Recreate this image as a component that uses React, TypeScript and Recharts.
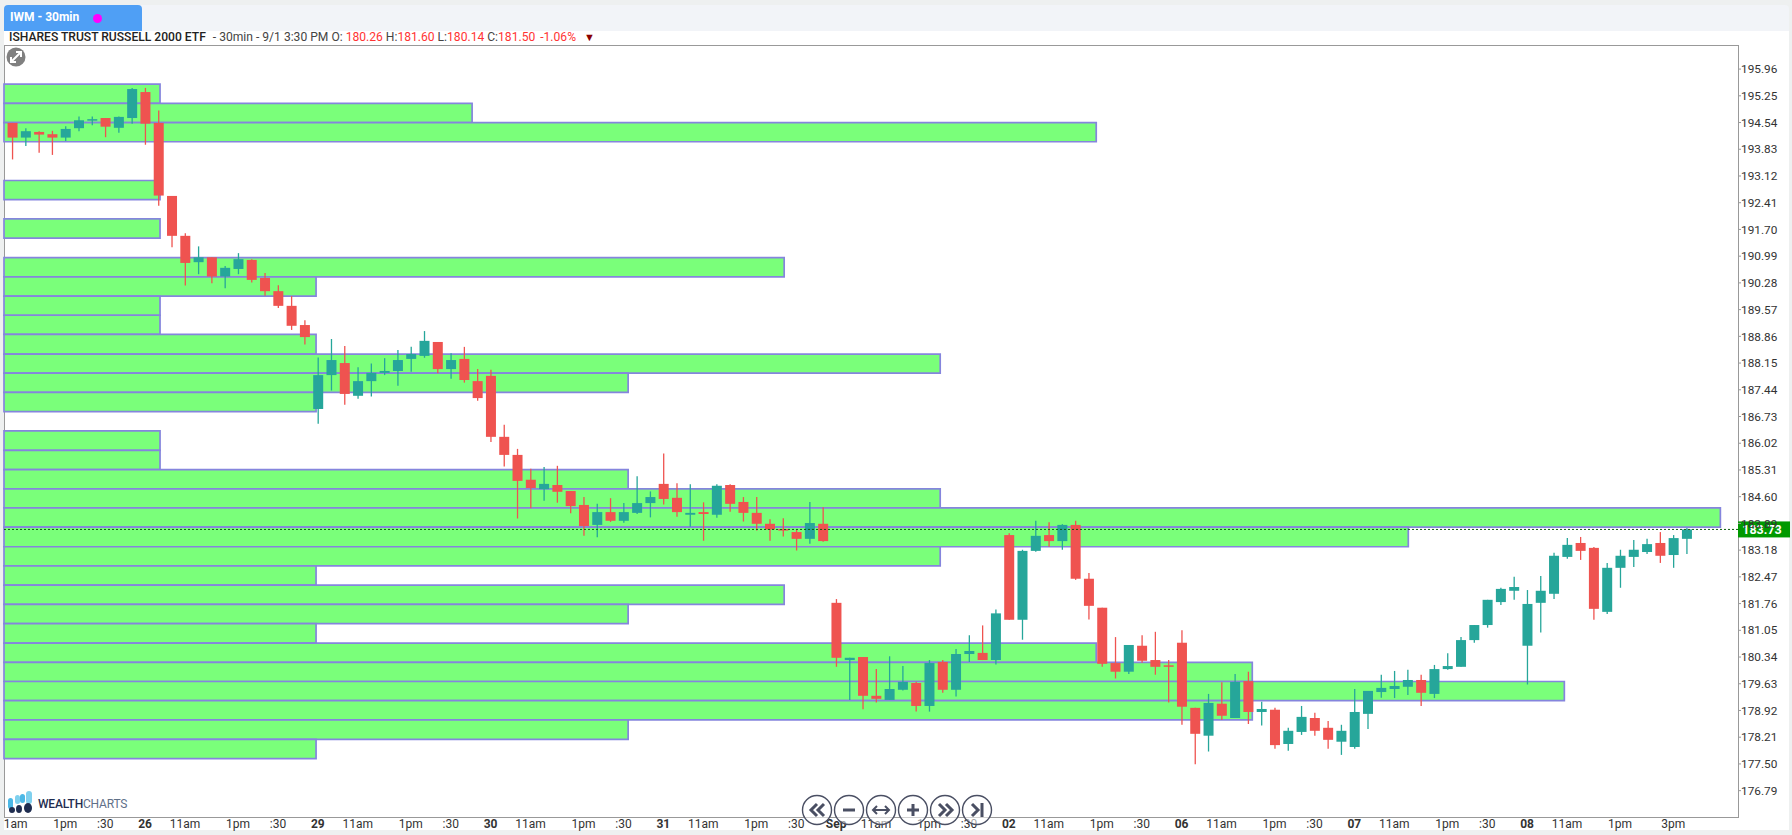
import {
  ComposedChart,
  Bar,
  XAxis,
  YAxis,
  ReferenceArea,
  ReferenceLine,
} from "recharts";

const opens = [
  194.53,194.14,194.29,194.23,194.14,194.39,194.60,194.66,194.40,194.66,
  195.35,194.53,192.59,191.53,190.83,190.96,190.45,190.65,190.89,190.41,
  190.06,189.67,189.16,186.93,187.83,188.15,187.28,187.67,187.89,187.94,
  188.26,188.34,188.71,187.99,188.26,187.67,187.81,186.19,185.71,185.05,
  184.80,184.91,184.75,184.38,183.85,184.19,183.96,184.17,184.43,184.94,
  184.57,184.12,184.19,184.12,184.91,184.46,184.17,183.88,183.74,183.66,
  183.48,183.88,181.78,180.26,180.34,179.31,179.20,179.47,179.65,179.04,
  180.21,179.47,180.42,180.45,180.26,183.58,181.33,183.16,183.58,183.42,
  183.85,182.42,181.65,180.18,179.95,180.64,180.26,180.12,180.72,178.99,
  178.25,179.10,178.72,179.70,178.88,178.94,178.03,178.35,178.72,178.46,
  178.09,177.95,178.83,179.41,179.49,179.55,179.73,179.36,180.02,180.08,
  180.79,181.19,181.80,182.10,180.64,181.78,182.02,183.00,183.37,183.24,
  181.54,182.71,183.00,183.13,183.37,183.05,183.48,
];
const highs = [
  194.53,194.39,194.31,194.32,194.44,194.70,194.70,194.66,194.70,195.46,
  195.46,194.86,192.59,191.60,191.25,190.96,190.73,191.07,190.91,190.54,
  190.22,189.93,189.29,188.30,188.79,188.60,188.04,188.14,188.28,188.50,
  188.58,189.00,188.71,188.41,188.58,187.99,187.97,186.51,185.87,185.34,
  185.39,185.42,184.75,184.59,184.41,184.56,184.43,185.14,184.74,185.75,
  184.96,184.93,184.45,184.93,184.93,184.59,184.59,184.00,184.03,183.72,
  184.46,184.32,181.88,180.32,180.34,180.02,180.36,180.10,179.68,180.26,
  180.26,180.55,180.92,181.18,181.60,183.63,183.19,183.96,183.92,183.87,
  183.96,182.57,181.65,180.87,180.66,180.92,181.01,180.26,181.05,178.99,
  179.36,179.67,179.89,179.95,179.15,178.99,178.46,179.04,178.86,178.64,
  178.54,179.49,179.44,179.87,179.97,180.00,179.87,180.13,180.44,180.87,
  181.19,181.86,182.18,182.47,182.12,182.49,183.11,183.50,183.53,183.26,
  182.84,183.19,183.45,183.48,183.66,183.58,183.77,
];
const lows = [
  193.56,193.92,193.74,193.68,194.05,194.31,194.47,194.15,194.27,194.51,
  193.95,192.33,191.23,190.21,190.51,190.27,190.14,190.51,190.29,189.94,
  189.61,189.03,188.64,186.54,187.42,187.04,187.20,187.26,187.83,187.55,
  187.92,188.29,187.88,187.73,187.63,187.15,186.05,185.40,184.02,184.29,
  184.49,184.44,184.16,183.56,183.52,183.93,183.91,184.14,184.05,184.39,
  184.07,183.80,183.43,184.04,184.20,183.94,183.70,183.43,183.54,183.17,
  183.35,183.40,180.08,179.20,178.95,179.13,179.20,179.45,178.89,178.89,
  179.39,179.29,180.21,180.26,180.14,181.33,180.80,183.14,183.27,183.19,
  182.39,181.34,180.08,179.77,179.89,180.19,179.87,179.13,178.54,177.49,
  177.83,178.67,178.72,178.56,178.52,177.90,177.85,178.27,178.25,177.90,
  177.74,177.90,178.43,179.26,179.25,179.33,179.04,179.25,180.00,180.08,
  180.72,181.12,181.72,181.86,179.61,180.99,181.88,182.95,182.92,181.33,
  181.48,182.18,182.73,183.08,182.84,182.71,183.08,
];
const closes = [
  194.14,194.31,194.22,194.14,194.37,194.60,194.63,194.43,194.69,195.43,
  194.51,192.60,191.53,190.81,190.96,190.45,190.68,190.91,190.36,190.06,
  189.67,189.14,188.84,187.83,188.23,187.33,187.67,187.89,187.94,188.23,
  188.39,188.74,187.99,188.23,187.70,187.22,186.19,185.71,185.02,184.83,
  184.94,184.73,184.35,183.82,184.19,183.96,184.19,184.43,184.59,184.54,
  184.19,184.17,184.14,184.89,184.41,184.17,183.88,183.73,183.70,183.48,
  183.90,183.42,180.32,180.32,179.31,179.23,179.49,179.68,179.04,180.18,
  179.47,180.42,180.50,180.26,181.50,181.33,183.16,183.56,183.42,183.85,
  182.42,181.70,180.16,179.95,180.66,180.24,180.08,180.08,179.02,178.30,
  179.12,178.78,179.68,178.88,178.96,178.00,178.38,178.75,178.38,178.14,
  178.38,178.88,179.44,179.52,179.57,179.73,179.39,180.02,180.10,180.79,
  181.19,181.86,182.15,182.20,181.75,182.10,183.03,183.32,183.16,181.62,
  182.71,183.03,183.19,183.34,183.03,183.50,183.73,
];

// volume profile rows, top to bottom
const rowEdges = [
  195.56,195.05,194.54,194.03,193.51,193.00,192.49,191.98,191.47,190.95,
  190.44,189.93,189.42,188.91,188.39,187.88,187.37,186.86,186.35,185.83,
  185.32,184.81,184.30,183.79,183.27,182.76,182.25,181.74,181.23,180.71,
  180.20,179.69,179.18,178.67,178.15,177.64,
];
const rowVolumes = [
  1,3,7,0,0,1,0,1,0,5,2,1,1,2,6,4,2,0,1,1,4,6,11,9,6,2,5,4,2,7,8,10,8,4,2,
];

const priceTicks = [
  195.96,195.25,194.54,193.83,193.12,192.41,191.70,190.99,190.28,189.57,
  188.86,188.15,187.44,186.73,186.02,185.31,184.60,183.89,183.18,182.47,
  181.76,181.05,180.34,179.63,178.92,178.21,177.50,176.79,
];
const timeTicks = [
  0,4,7,10,13,17,20,23,26,30,33,36,39,43,46,49,52,56,59,62,65,69,72,75,78,82,85,88,91,95,98,101,104,108,111,114,117,121,125,
];
const timeLabels = [
  "1am","1pm",":30","26","11am","1pm",":30","29","11am","1pm",":30","30","11am","1pm",":30","31",
  "11am","1pm",":30","Sep","11am","1pm",":30","02","11am","1pm",":30","06","11am","1pm",":30","07",
  "11am","1pm",":30","08","11am","1pm","3pm",
];
const lastPrice = 183.73;

const candles = opens.map((open, i) => ({
  index: i,
  open,
  high: highs[i],
  low: lows[i],
  close: closes[i],
  range: [lows[i], highs[i]],
}));

const font = "Roboto, sans-serif";
const UP = "#26a69a";
const DOWN = "#ef5350";

function Candle(props: any) {
  const { x, y, width, height, payload } = props;
  const perPrice = height / (payload.high - payload.low);
  const up = payload.close >= payload.open;
  const color = up ? UP : DOWN;
  const bodyTop = y + (payload.high - Math.max(payload.open, payload.close)) * perPrice;
  const bodyH = Math.max(Math.abs(payload.open - payload.close) * perPrice, 1.5);
  const cx = x + width / 2;
  return (
    <g>
      <line x1={cx} x2={cx} y1={y} y2={y + height} stroke={color} strokeWidth={1.3} />
      <rect x={x} y={bodyTop} width={width} height={bodyH} fill={color} />
    </g>
  );
}

function TimeTick(props: any) {
  const { x, y, payload } = props;
  const label = timeLabels[timeTicks.indexOf(payload.value)];
  const bold = /^\d\d$/.test(label) || label === "Sep";
  return (
    <text
      x={payload.value === 0 ? x + 3.5 : x}
      y={y + 3}
      textAnchor="middle"
      fontFamily={font}
      fontSize={12}
      fontWeight={bold ? 700 : 400}
      fill="#333"
    >
      {label}
    </text>
  );
}

function PriceTag(props: any) {
  const { viewBox } = props;
  const right = viewBox.x + viewBox.width;
  return (
    <g>
      <rect x={right} y={viewBox.y - 8} width={52} height={16} fill="#009900" />
      <text
        x={right + 24}
        y={viewBox.y + 4.5}
        textAnchor="middle"
        fontFamily={font}
        fontSize={12.5}
        fontWeight={700}
        fill="#fff"
      >
        {lastPrice.toFixed(2)}
      </text>
    </g>
  );
}

function NavButtons() {
  const xs = [817, 849, 881, 913, 945, 977];
  const c = "#4a4f63";
  return (
    <svg width={1792} height={835} style={{ position: "absolute", left: 0, top: 0, pointerEvents: "none" }}>
      {xs.map((x) => (
        <circle key={x} cx={x} cy={810} r={14.5} fill="rgba(255,255,255,0.55)" stroke={c} strokeWidth={1.4} />
      ))}
      <g fill="none" stroke={c} strokeWidth={3}>
        <path d="M817 804l-6 6 6 6M824 804l-6 6 6 6" />
        <path d="M843 810h12" />
        <path d="M873 810h16" strokeWidth={2} />
        <path d="M877 806l-4 4 4 4M885 806l4 4-4 4" strokeWidth={2} />
        <path d="M907 810h12M913 804v12" />
        <path d="M939 804l6 6-6 6M946 804l6 6-6 6" />
        <path d="M972 804l6 6-6 6M982 803v14" />
      </g>
    </svg>
  );
}

function Logo() {
  return (
    <div style={{ position: "absolute", left: 7, top: 791, width: 124, height: 24 }}>
      <svg width={26} height={24} style={{ position: "absolute", left: 0, top: 0 }}>
        <rect x={1} y={7} width={5} height={11} rx={2.5} fill="#4cb8e6" />
        <rect x={8} y={4} width={5} height={9} rx={2.5} fill="#7fd0ee" />
        <rect x={13} y={3} width={5} height={9} rx={2.5} fill="#4cb8e6" />
        <rect x={19} y={0} width={6} height={13} rx={3} fill="#7fd0ee" />
        <circle cx={5} cy={19} r={3} fill="#1f2d50" />
        <ellipse cx={12} cy={18} rx={3} ry={4} fill="#1f2d50" />
        <ellipse cx={21} cy={17} rx={4} ry={5} fill="#1f2d50" />
      </svg>
      <div style={{ position: "absolute", left: 31, top: 6, fontFamily: font, fontSize: 12, color: "#1f2d50", fontWeight: 500, letterSpacing: -0.2, whiteSpace: "nowrap" }}>
        WEALTH<span style={{ color: "#5f7088", fontWeight: 400 }}>CHARTS</span>
      </div>
    </div>
  );
}

function Header() {
  const red = { color: "#f33" };
  return (
    <>
      <div style={{ position: "absolute", left: 4, top: 5, width: 1785, height: 26, background: "#f2f4f8", borderRadius: "4px 4px 0 0" }} />
      <div style={{ position: "absolute", left: 4, top: 5, width: 138, height: 26, background: "#4f9ff5", borderRadius: "4px 4px 0 0" }}>
        <span style={{ position: "absolute", left: 6, top: 5, fontFamily: font, fontSize: 12, fontWeight: 700, color: "#fff", whiteSpace: "nowrap" }}>
          IWM - 30min
        </span>
        <span style={{ position: "absolute", left: 89, top: 8.5, width: 9, height: 9, borderRadius: "50%", background: "#f0f" }} />
      </div>
      <div style={{ position: "absolute", left: 9, top: 30, fontFamily: font, fontSize: 12.1, lineHeight: "14px", color: "#222", whiteSpace: "nowrap" }}>
        <span style={{ fontWeight: 500 }}>ISHARES TRUST RUSSELL 2000 ETF</span>
        <span style={{ marginLeft: 7, color: "#444" }}>
          - 30min - 9/1 3:30 PM O: <span style={red}>180.26</span> H:<span style={red}>181.60</span> L:<span style={red}>180.14</span> C:<span style={red}>181.50</span>
          <span style={{ ...red, marginLeft: 5 }}>-1.06%</span>
          <span style={{ color: "#8b0000", marginLeft: 8, fontSize: 11 }}>▼</span>
        </span>
      </div>
      <svg width={22} height={22} style={{ position: "absolute", left: 5, top: 46 }}>
        <circle cx={11} cy={11} r={9.5} fill="#808080" />
        <path d="M6 16L16 6" stroke="#fff" strokeWidth={2} />
        <path d="M6 11v5h5M16 11V6h-5" stroke="#fff" strokeWidth={2} fill="none" />
      </svg>
    </>
  );
}

export default function App() {
  return (
    <div style={{ position: "absolute", left: 0, top: 0, width: 1792, height: 835, overflow: "hidden", background: "#eef0f0" }}>
      <div style={{ position: "absolute", left: 4, top: 31, width: 1785, height: 799, background: "#fff" }} />
      <Header />
      <div style={{ position: "absolute", left: 4, top: 45, width: 1733, height: 771, border: "1px solid #999" }} />
      <div style={{ position: "absolute", left: 0, top: 0 }}>
        <ComposedChart
          width={1792}
          height={835}
          data={candles}
          margin={{ top: 45, left: 4, right: 0, bottom: 0 }}
        >
          <XAxis
            xAxisId="time"
            dataKey="index"
            type="number"
            domain={[-0.617, 129.87]}
            allowDataOverflow
            ticks={timeTicks}
            interval={0}
            height={18}
            tick={<TimeTick />}
            tickLine={false}
            axisLine={false}
          />
          <XAxis xAxisId="vol" dataKey="index" type="number" domain={[0, 11.113]} allowDataOverflow hide />
          <YAxis
            orientation="right"
            type="number"
            domain={[176.09, 196.6]}
            allowDataOverflow
            ticks={priceTicks}
            interval={0}
            width={54}
            tickSize={3}
            tickMargin={0}
            tickFormatter={(v: number) => v.toFixed(2)}
            tick={{ fontFamily: font, fontSize: 11.8, fill: "#333" }}
            stroke="#999"
            axisLine={false}
          />
          {rowVolumes.map((v, i) =>
            v > 0 ? (
              <ReferenceArea
                key={i}
                xAxisId="vol"
                x1={0}
                x2={v}
                y1={rowEdges[i + 1]}
                y2={rowEdges[i]}
                fill="#7aff7a"
                fillOpacity={1}
                stroke="#8585dd"
                strokeWidth={1.7}
              />
            ) : null
          )}
          <Bar
            xAxisId="time"
            dataKey="range"
            barSize={10}
            shape={<Candle />}
            isAnimationActive={false}
          />
          <ReferenceLine
            xAxisId="time"
            y={lastPrice}
            stroke="#0a5c0a"
            strokeDasharray="2 2"
            label={<PriceTag />}
          />
        </ComposedChart>
      </div>
      <Logo />
      <NavButtons />
    </div>
  );
}
